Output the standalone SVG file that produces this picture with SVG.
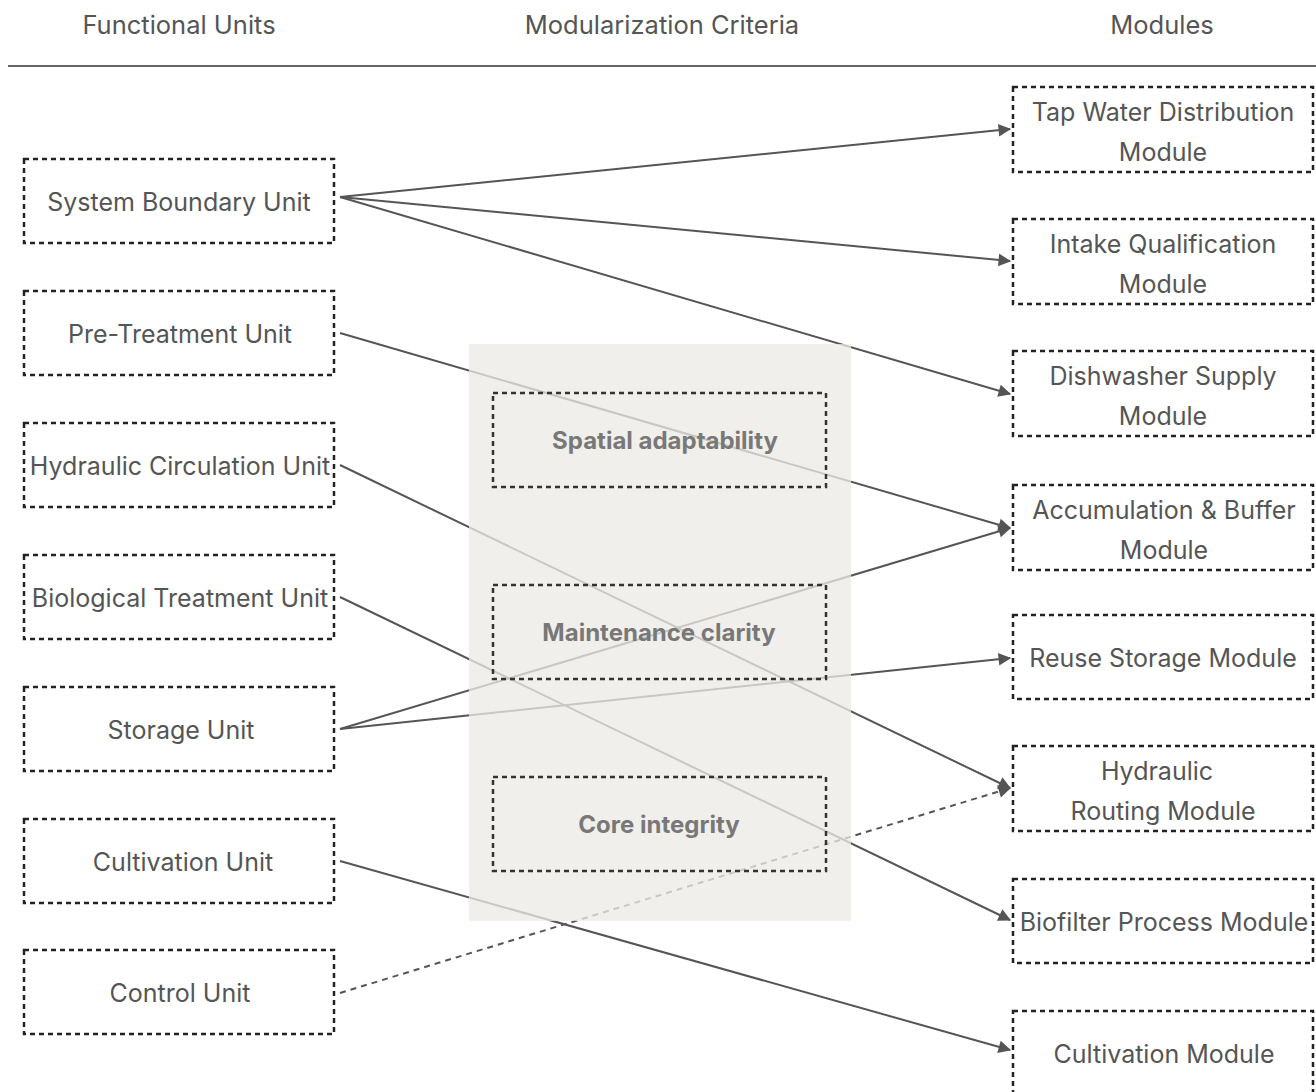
<svg xmlns="http://www.w3.org/2000/svg" width="1316" height="1092" viewBox="0 0 1316 1092">
  <style>
    .hdr { font-family: Inter, "Noto Sans", sans-serif; font-size: 25.5px; fill: #555; text-anchor: middle; }
    .box { fill: #fff; stroke: #222; stroke-width: 2.5; stroke-dasharray: 5 4; }
    .lbl { font-family: Inter, "Noto Sans", sans-serif; font-size: 25px; fill: #555; text-anchor: middle; dominant-baseline: central; }
    .crit { fill: none; stroke: #333; stroke-width: 2.5; stroke-dasharray: 5 4; }
    .critlbl { font-family: Inter, "Noto Sans", sans-serif; font-size: 24px; font-weight: 700; fill: #787878; text-anchor: middle; dominant-baseline: central; }
    .edge { fill: none; stroke: #555; stroke-width: 2; marker-end: url(#arrow); }
    .dashed { stroke-dasharray: 6 5; }
  </style>
  <defs>
    <marker id="arrow" viewBox="0 0 10 10" refX="9" refY="5" markerWidth="7" markerHeight="7" markerUnits="userSpaceOnUse" orient="auto" style="overflow:visible">
      <path d="M0,0 L10,5 L0,10 z" fill="#555" transform="scale(1.8) translate(-4.1,-2.2)"/>
    </marker>
  </defs>
  <rect width="1316" height="1092" fill="#fff"/>

  <!-- column headers -->
  <g id="headers">
    <text class="hdr" x="179" y="34">Functional Units</text>
    <text class="hdr" x="662" y="34">Modularization Criteria</text>
    <text class="hdr" x="1162" y="34">Modules</text>
    <line x1="8" y1="66" x2="1316" y2="66" stroke="#666" stroke-width="2"/>
  </g>

  <!-- connectors -->
  <g id="connectors">
    <line class="edge" x1="340" y1="197" x2="1010" y2="129"/>
    <line class="edge" x1="340" y1="197" x2="1010" y2="261"/>
    <line class="edge" x1="340" y1="197" x2="1010" y2="394"/>
    <line class="edge" x1="340" y1="333" x2="1010" y2="528"/>
    <line class="edge" x1="340" y1="465" x2="1010" y2="788"/>
    <line class="edge" x1="340" y1="597" x2="1010" y2="920"/>
    <line class="edge" x1="340" y1="729" x2="1010" y2="528"/>
    <line class="edge" x1="340" y1="729" x2="1010" y2="658"/>
    <line class="edge" x1="340" y1="861" x2="1010" y2="1050"/>
    <line class="edge dashed" x1="340" y1="993" x2="1010" y2="788"/>
  </g>

  <!-- criteria panel, laid over the connectors -->
  <g id="criteria-panel">
    <rect x="469" y="344" width="382" height="577" fill="#ebeae5" fill-opacity="0.77"/>
  </g>
  <g id="crit-spatial">
    <rect class="crit" x="493" y="393" width="333" height="94"/>
    <text class="critlbl" x="665" y="440">Spatial adaptability</text>
  </g>
  <g id="crit-maintenance">
    <rect class="crit" x="493" y="585" width="333" height="94"/>
    <text class="critlbl" x="659" y="632">Maintenance clarity</text>
  </g>
  <g id="crit-core">
    <rect class="crit" x="493" y="777" width="333" height="94"/>
    <text class="critlbl" x="659" y="824">Core integrity</text>
  </g>

  <!-- functional units -->
  <g id="unit-system-boundary">
    <rect class="box" x="24" y="159" width="310" height="84"/>
    <text class="lbl" x="179" y="202">System Boundary Unit</text>
  </g>
  <g id="unit-pre-treatment">
    <rect class="box" x="24" y="291" width="310" height="84"/>
    <text class="lbl" x="180" y="334">Pre-Treatment Unit</text>
  </g>
  <g id="unit-hydraulic-circulation">
    <rect class="box" x="24" y="423" width="310" height="84"/>
    <text class="lbl" x="180" y="466">Hydraulic Circulation Unit</text>
  </g>
  <g id="unit-biological">
    <rect class="box" x="24" y="555" width="310" height="84"/>
    <text class="lbl" x="180" y="598">Biological Treatment Unit</text>
  </g>
  <g id="unit-storage">
    <rect class="box" x="24" y="687" width="310" height="84"/>
    <text class="lbl" x="181" y="730">Storage Unit</text>
  </g>
  <g id="unit-cultivation">
    <rect class="box" x="24" y="819" width="310" height="84"/>
    <text class="lbl" x="183" y="862">Cultivation Unit</text>
  </g>
  <g id="unit-control">
    <rect class="box" x="24" y="950" width="310" height="84"/>
    <text class="lbl" x="180" y="993">Control Unit</text>
  </g>

  <!-- modules -->
  <g id="mod-tap-water">
    <rect class="box" x="1013" y="87" width="300" height="85"/>
    <text class="lbl" x="1163" y="112">Tap Water Distribution</text>
    <text class="lbl" x="1163" y="152">Module</text>
  </g>
  <g id="mod-intake">
    <rect class="box" x="1013" y="219" width="300" height="85"/>
    <text class="lbl" x="1163" y="244">Intake Qualification</text>
    <text class="lbl" x="1163" y="284">Module</text>
  </g>
  <g id="mod-dishwasher">
    <rect class="box" x="1013" y="351" width="300" height="85"/>
    <text class="lbl" x="1163" y="376">Dishwasher Supply</text>
    <text class="lbl" x="1163" y="416">Module</text>
  </g>
  <g id="mod-accumulation">
    <rect class="box" x="1013" y="485" width="300" height="85"/>
    <text class="lbl" x="1164" y="510">Accumulation &amp; Buffer</text>
    <text class="lbl" x="1164" y="550">Module</text>
  </g>
  <g id="mod-reuse-storage">
    <rect class="box" x="1013" y="615" width="300" height="84"/>
    <text class="lbl" x="1163" y="658">Reuse Storage Module</text>
  </g>
  <g id="mod-hydraulic-routing">
    <rect class="box" x="1013" y="746" width="300" height="85"/>
    <text class="lbl" x="1157" y="771">Hydraulic</text>
    <text class="lbl" x="1163" y="811">Routing Module</text>
  </g>
  <g id="mod-biofilter">
    <rect class="box" x="1013" y="879" width="300" height="84"/>
    <text class="lbl" x="1164" y="922">Biofilter Process Module</text>
  </g>
  <g id="mod-cultivation">
    <rect class="box" x="1013" y="1011" width="300" height="84"/>
    <text class="lbl" x="1164" y="1054">Cultivation Module</text>
  </g>
</svg>
